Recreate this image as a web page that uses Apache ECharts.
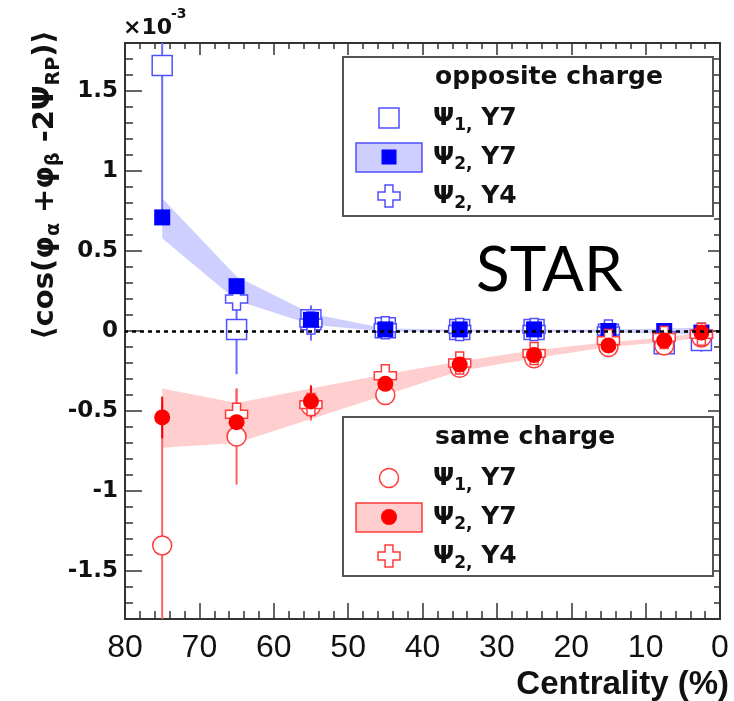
<!DOCTYPE html>
<html><head><meta charset="utf-8">
<script src="https://cdn.jsdelivr.net/npm/echarts@6/dist/echarts.min.js"></script>
<style>html,body{margin:0;padding:0;background:#fff}#c{width:734px;height:701px}</style>
</head><body><div id="c"></div>
<script>
// ---- data ----
const centrality = [75, 65, 55, 45, 35, 25, 15, 7.5, 2.5];
const xTickLabels = [0, 10, 20, 30, 40, 50, 60, 70, 80];
const yTickLabels = [-1.5, -1, -0.5, 0, 0.5, 1, 1.5];

// opposite charge
const oppPsi1Y7 = [1.66, 0.01, 0.07, 0.02, 0.01, 0.01, -0.02, -0.08, -0.06];
const oppPsi1Y7Err = [0.95, 0.28, 0.08, 0.05, 0.04, 0.04, 0.05, 0.06, 0.07];
const oppPsi2Y7 = [0.71, 0.28, 0.07, 0.01, 0.01, 0.01, 0.0, 0.0, -0.01];
const oppPsi2Y7Err = [0.03, 0.03, 0.03, 0.02, 0.02, 0.02, 0.02, 0.03, 0.03];
const oppPsi2Y7SysLow = [0.58, 0.19, 0.04, -0.005, -0.005, -0.005, -0.01, -0.015, -0.02];
const oppPsi2Y7SysHigh = [0.83, 0.34, 0.11, 0.015, 0.01, 0.01, 0.01, 0.015, 0.02];
const oppPsi2Y4 = [null, 0.20, 0.05, 0.02, 0.01, 0.01, 0.0, -0.03, -0.02];
const oppPsi2Y4Err = [null, 0.06, 0.11, 0.04, 0.03, 0.03, 0.04, 0.05, 0.06];

// same charge
const samePsi1Y7 = [-1.34, -0.66, -0.47, -0.40, -0.23, -0.17, -0.10, -0.09, -0.04];
const samePsi1Y7Err = [0.90, 0.30, 0.08, 0.05, 0.04, 0.04, 0.05, 0.06, 0.08];
const samePsi2Y7 = [-0.54, -0.57, -0.44, -0.33, -0.21, -0.15, -0.09, -0.06, -0.01];
const samePsi2Y7Err = [0.13, 0.10, 0.10, 0.04, 0.03, 0.03, 0.03, 0.04, 0.06];
const samePsi2Y7SysLow = [-0.73, -0.70, -0.55, -0.40, -0.25, -0.17, -0.10, -0.07, -0.04];
const samePsi2Y7SysHigh = [-0.36, -0.45, -0.36, -0.27, -0.19, -0.12, -0.07, -0.04, -0.01];
const samePsi2Y4 = [null, -0.52, -0.46, -0.28, -0.20, -0.14, -0.06, -0.04, -0.02];
const samePsi2Y4Err = [null, 0.16, 0.10, 0.05, 0.04, 0.04, 0.05, 0.05, 0.07];

// ---- styling ----
const BLUE = '#0000ff', BLUE_OPEN = '#5050ff', BLUE_ERR = '#6a6aff', BLUE_BAND = 'rgba(60,60,255,0.25)';
const RED = '#ff0000', RED_OPEN = '#ff3a3a', RED_ERR = '#ff6060', RED_BAND = 'rgba(255,60,60,0.25)';
const FRAME = '#333';
const PLUS = 'path://M3.2,0 H6.8 V3.2 H10 V6.8 H6.8 V10 H3.2 V6.8 H0 V3.2 H3.2 Z';
const DJ = '"DejaVu Sans", sans-serif';
const LS = '"Liberation Sans", Arial, sans-serif';

function pts(vals) {
  const out = [];
  centrality.forEach((c, i) => { if (vals[i] != null) out.push([c, vals[i]]); });
  return out;
}
function bandSeries(low, high, color) {
  return {
    type: 'custom', silent: true, clip: true, z: 2,
    data: [[centrality[0], low[0]]], encode: { x: 0, y: 1 },
    renderItem(params, api) {
      const p = [];
      for (let i = 0; i < centrality.length; i++) p.push(api.coord([centrality[i], high[i]]));
      for (let i = centrality.length - 1; i >= 0; i--) p.push(api.coord([centrality[i], low[i]]));
      return { type: 'polygon', shape: { points: p }, style: { fill: color } };
    }
  };
}
function errSeries(vals, errs, color) {
  const data = [];
  centrality.forEach((c, i) => { if (vals[i] != null) data.push([c, vals[i], errs[i]]); });
  return {
    type: 'custom', silent: true, clip: true, z: 3, data, encode: { x: 0, y: 1 },
    renderItem(params, api) {
      const x = api.value(0), y = api.value(1), e = api.value(2);
      const a = api.coord([x, y - e]), b = api.coord([x, y + e]);
      return { type: 'line', shape: { x1: a[0], y1: a[1], x2: b[0], y2: b[1] }, style: { stroke: color, lineWidth: 2 } };
    }
  };
}
function sc(vals, symbol, size, fill, border, bw) {
  return { type: 'scatter', z: 4, silent: true, data: pts(vals), symbol, symbolSize: size,
    itemStyle: { color: fill, borderColor: border, borderWidth: bw, opacity: 1 } };
}

const yMinor = { type: 'value', min: -1.8, max: 1.8, interval: 0.1, axisLine: { show: false, onZero: false },
  axisLabel: { show: false }, splitLine: { show: false } };

const option = {
  animation: false,
  backgroundColor: '#fff',
  grid: { left: 125, top: 43, width: 595, height: 576, show: false },
  xAxis: [
    { type: 'value', min: 0, max: 80, interval: 10, inverse: true, position: 'bottom',
      axisLine: { show: true, onZero: false, lineStyle: { color: FRAME, width: 2 } },
      axisTick: { show: true, inside: true, length: 16, lineStyle: { color: FRAME, width: 1.5 } },
      minorTick: { show: true, splitNumber: 5, length: 8, lineStyle: { color: FRAME, width: 1.5 } },
      axisLabel: { fontSize: 32, fontFamily: LS, color: '#111', margin: 13,
        customValues: xTickLabels },
      splitLine: { show: false } },
    { type: 'value', min: 0, max: 80, interval: 10, inverse: true, position: 'top',
      axisLine: { show: true, onZero: false, lineStyle: { color: FRAME, width: 2 } },
      axisTick: { show: true, inside: true, length: 12, lineStyle: { color: FRAME, width: 1.5 } },
      minorTick: { show: true, splitNumber: 5, length: 6, lineStyle: { color: FRAME, width: 1.5 } },
      axisLabel: { show: false }, splitLine: { show: false } }
  ],
  yAxis: [
    { type: 'value', min: -1.8, max: 1.8, position: 'left',
      axisLine: { show: true, onZero: false, lineStyle: { color: FRAME, width: 2 } },
      axisTick: { show: true, inside: true, length: 17, customValues: yTickLabels, lineStyle: { color: FRAME, width: 1.5 } },
      axisLabel: { customValues: yTickLabels, fontSize: 23, fontWeight: 'bold', fontFamily: DJ, color: '#111', margin: 7 },
      splitLine: { show: false } },
    Object.assign({}, yMinor, { position: 'left',
      axisTick: { show: true, inside: true, length: 8, lineStyle: { color: FRAME, width: 1.5 } } }),
    { type: 'value', min: -1.8, max: 1.8, position: 'right',
      axisLine: { show: true, onZero: false, lineStyle: { color: FRAME, width: 2 } },
      axisTick: { show: true, inside: true, length: 12, customValues: yTickLabels, lineStyle: { color: FRAME, width: 1.5 } },
      axisLabel: { show: false }, splitLine: { show: false } },
    Object.assign({}, yMinor, { position: 'right',
      axisTick: { show: true, inside: true, length: 6, lineStyle: { color: FRAME, width: 1.5 } } })
  ],
  series: [
    bandSeries(oppPsi2Y7SysLow, oppPsi2Y7SysHigh, BLUE_BAND),
    bandSeries(samePsi2Y7SysLow, samePsi2Y7SysHigh, RED_BAND),
    { type: 'scatter', data: [], z: 3, silent: true,
      markLine: { silent: true, symbol: 'none', label: { show: false }, animation: false,
        lineStyle: { type: [4, 4], color: '#000', width: 2.5 }, data: [{ yAxis: 0 }] } },
    errSeries(oppPsi1Y7, oppPsi1Y7Err, BLUE_ERR),
    errSeries(oppPsi2Y4, oppPsi2Y4Err, BLUE_ERR),
    errSeries(oppPsi2Y7, oppPsi2Y7Err, BLUE),
    sc(oppPsi1Y7, 'rect', 20, '#fff', BLUE_OPEN, 1.5),
    sc(oppPsi2Y4, PLUS, 22, '#fff', BLUE_OPEN, 1.5),
    sc(oppPsi2Y7, 'rect', 16, BLUE, BLUE, 0),
    errSeries(samePsi1Y7, samePsi1Y7Err, RED_ERR),
    errSeries(samePsi2Y4, samePsi2Y4Err, RED_ERR),
    errSeries(samePsi2Y7, samePsi2Y7Err, RED),
    sc(samePsi1Y7, 'circle', 19, '#fff', RED_OPEN, 1.5),
    sc(samePsi2Y4, PLUS, 22, '#fff', RED_OPEN, 1.5),
    sc(samePsi2Y7, 'circle', 16, RED, RED, 0)
  ],
  graphic: []
};

// ---- texts and legends ----
const sub = { fontSize: 17, fontWeight: 'bold', fontFamily: DJ, fill: '#111', lineHeight: 17, verticalAlign: 'bottom' };
const main = { fontSize: 25, fontWeight: 'bold', fontFamily: DJ, fill: '#111', lineHeight: 32 };
const G = option.graphic;
G.push({ type: 'text', x: 123, y: 28, z: 50, style: { text: '×10', fontSize: 22, fontWeight: 'bold', fontFamily: DJ, fill: '#111', verticalAlign: 'middle' } });
G.push({ type: 'text', x: 171, y: 14, z: 50, style: { text: '-3', fontSize: 14, fontWeight: 'bold', fontFamily: DJ, fill: '#111', verticalAlign: 'middle' } });
G.push({ type: 'text', x: 476, y: 271, z: 50, style: { text: 'STAR', fontSize: 62, fontFamily: 'Lato, sans-serif', fill: '#000', verticalAlign: 'middle' } });
G.push({ type: 'text', x: 729, y: 685, z: 50, style: { text: 'Centrality (%)', fontSize: 33, fontWeight: 'bold', fontFamily: LS, fill: '#111', align: 'right', verticalAlign: 'middle' } });
G.push({ type: 'text', x: 45, y: 185, z: 50, rotation: Math.PI / 2,
  style: { text: '{m|⟨cos(φ}{s|α}{m| +φ}{s|β}{m| -2Ψ}{s|RP}{m|)⟩}', align: 'center', verticalAlign: 'middle',
    rich: { m: Object.assign({}, main, { fontSize: 29, lineHeight: 38 }), s: Object.assign({}, sub, { fontSize: 19, lineHeight: 19 }) } } });

function plusPoints(cx, cy, r) {
  const a = r * 0.36;
  return [[cx - a, cy - r], [cx + a, cy - r], [cx + a, cy - a], [cx + r, cy - a], [cx + r, cy + a], [cx + a, cy + a],
          [cx + a, cy + r], [cx - a, cy + r], [cx - a, cy + a], [cx - r, cy + a], [cx - r, cy - a], [cx - a, cy - a]];
}
function legend(top, header, isBlue) {
  const c = isBlue ? BLUE : RED, open = isBlue ? BLUE_OPEN : RED_OPEN, band = isBlue ? BLUE_BAND : RED_BAND;
  G.push({ type: 'rect', z: 40, shape: { x: 343, y: top, width: 370, height: 159 }, style: { fill: '#fff', stroke: '#555', lineWidth: 2 } });
  G.push({ type: 'text', z: 41, x: 435, y: top + 20, style: { text: header, fontSize: 25, fontWeight: 'bold', fontFamily: DJ, fill: '#111', verticalAlign: 'middle' } });
  const rows = [top + 61, top + 100, top + 139];
  const labels = ['{m|Ψ}{s|1,}{m| Y7}', '{m|Ψ}{s|2,}{m| Y7}', '{m|Ψ}{s|2,}{m| Y4}'];
  rows.forEach((ry, i) => G.push({ type: 'text', z: 41, x: 433, y: ry, style: { text: labels[i], verticalAlign: 'middle', rich: { m: main, s: sub } } }));
  if (isBlue) G.push({ type: 'rect', z: 41, shape: { x: 379, y: rows[0] - 10, width: 20, height: 20 }, style: { fill: '#fff', stroke: open, lineWidth: 1.5 } });
  else G.push({ type: 'circle', z: 41, shape: { cx: 389, cy: rows[0], r: 9.5 }, style: { fill: '#fff', stroke: open, lineWidth: 1.5 } });
  G.push({ type: 'rect', z: 41, shape: { x: 356, y: rows[1] - 14, width: 66, height: 29 }, style: { fill: band, stroke: open, lineWidth: 1.5 } });
  if (isBlue) G.push({ type: 'rect', z: 42, shape: { x: 381.5, y: rows[1] - 7.5, width: 15, height: 15 }, style: { fill: c } });
  else G.push({ type: 'circle', z: 42, shape: { cx: 389, cy: rows[1], r: 8 }, style: { fill: c } });
  G.push({ type: 'polygon', z: 41, shape: { points: plusPoints(389, rows[2], 11) }, style: { fill: '#fff', stroke: open, lineWidth: 1.5 } });
}
legend(57, 'opposite charge', true);
legend(417, 'same charge', false);

const chart = echarts.init(document.getElementById('c'), null, { renderer: 'canvas' });
chart.setOption(option);
</script>
</body></html>
